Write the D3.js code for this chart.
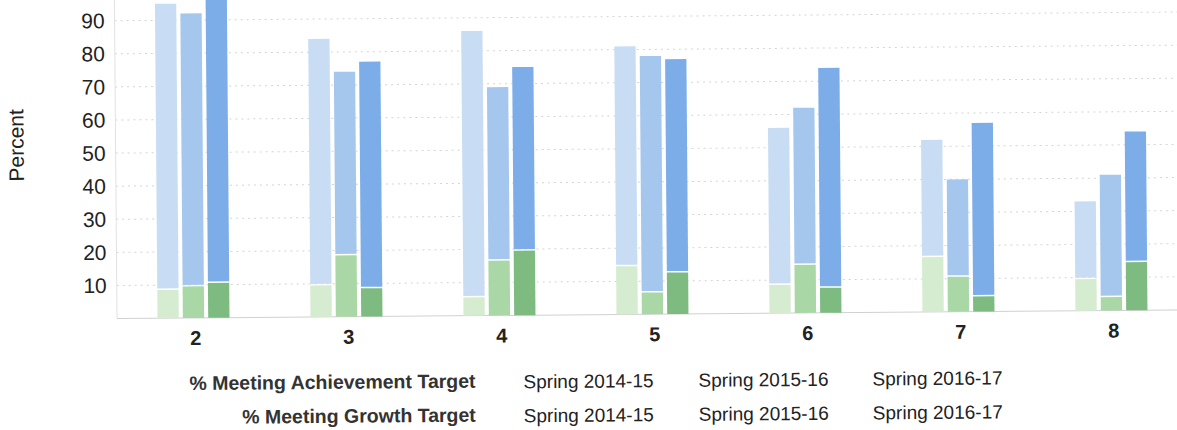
<!DOCTYPE html>
<html>
<head>
<meta charset="utf-8">
<script src="https://d3js.org/d3.v7.min.js"></script>
<style>
  html, body { margin: 0; padding: 0; background: #fff; }
  svg { display: block; font-family: "Liberation Sans", Arial, sans-serif; }
</style>
</head>
<body>
<div id="chart"></div>
<script>
// grades on the x axis
const grades = ["2", "3", "4", "5", "6", "7", "8"];
const seasons = ["Spring 2014-15", "Spring 2015-16", "Spring 2016-17"];
const yTicks = [10, 20, 30, 40, 50, 60, 70, 80, 90];

// % meeting achievement target (top of each bar), one row per grade
const achievement = [
  [95, 92, 98],
  [84, 74, 77],
  [86, 69, 75],
  [81, 78, 77],
  [56, 62, 74],
  [52, 40, 57],
  [33, 41, 54]
];

// % meeting growth target (green part at the bottom)
const growth = [
  [9, 10, 11],
  [10, 19, 9],
  [6, 17, 20],
  [15, 7, 13],
  [9, 15, 8],
  [17, 11, 5],
  [10, 4.5, 15]
];

const blues = ["#c8ddf3", "#a5c7ee", "#7cade9"];
const greens = ["#d5ecd0", "#a9d7a5", "#7dbb81"];

const W = 1177, H = 430;
const left = 117;

const svg = d3.select("#chart").append("svg")
  .attr("width", W)
  .attr("height", H);

// the scanned page is a little tilted
const g = svg.append("g").attr("transform", "rotate(-0.47, 190, 318)");

const y = d3.scaleLinear().domain([0, 100]).range([318, -13]);
const x0 = d3.scaleBand().domain(grades).range([left, left + 7 * 153]);
const x1 = d3.scaleBand().domain(d3.range(3))
  .range([-36, 36]).paddingInner(0.16);

// dotted grid
g.selectAll(".grid").data(yTicks).enter().append("line")
  .attr("x1", left).attr("x2", W + 20)
  .attr("y1", d => y(d)).attr("y2", d => y(d))
  .attr("stroke", "#d4d4d4")
  .attr("stroke-width", 1)
  .attr("stroke-dasharray", "2,4");

// axis lines
g.append("line")
  .attr("x1", left).attr("x2", left)
  .attr("y1", -10).attr("y2", y(0))
  .attr("stroke", "#e2e2e2");
g.append("line")
  .attr("x1", left).attr("x2", W + 20)
  .attr("y1", y(0)).attr("y2", y(0))
  .attr("stroke", "#d0d0d0");

// y tick labels
g.selectAll(".ytick").data(yTicks).enter().append("text")
  .attr("x", 107)
  .attr("y", d => y(d))
  .attr("dy", "0.35em")
  .attr("text-anchor", "end")
  .attr("font-size", 21)
  .attr("fill", "#222")
  .text(d => d);

g.append("text")
  .attr("transform", "translate(25,144) rotate(-90)")
  .attr("text-anchor", "middle")
  .attr("font-size", 21)
  .attr("fill", "#222")
  .text("Percent");

// bars
const groups = g.selectAll(".grade").data(grades).enter().append("g")
  .attr("transform", d => `translate(${x0(d) + x0.bandwidth() / 2},0)`);

groups.each(function(grade, gi) {
  const grp = d3.select(this);
  d3.range(3).forEach(s => {
    const a = achievement[gi][s];
    const gr = growth[gi][s];
    grp.append("rect")
      .attr("x", x1(s))
      .attr("width", x1.bandwidth())
      .attr("y", y(a))
      .attr("height", y(gr) - y(a))
      .attr("fill", blues[s]);
    grp.append("rect")
      .attr("x", x1(s))
      .attr("width", x1.bandwidth())
      .attr("y", y(gr) + 1.5)
      .attr("height", y(0) - y(gr) - 1.5)
      .attr("fill", greens[s]);
  });
  grp.append("text")
    .attr("x", 2)
    .attr("y", 345)
    .attr("text-anchor", "middle")
    .attr("font-size", 20)
    .attr("font-weight", "bold")
    .attr("fill", "#222")
    .text(grade);
});

// legend rows
const rows = ["% Meeting Achievement Target", "% Meeting Growth Target"];
const seasonX = [523, 698, 872];
rows.forEach((label, i) => {
  const by = 390 + i * 34;
  g.append("text")
    .attr("x", 475).attr("y", by)
    .attr("text-anchor", "end")
    .attr("font-size", 19.5)
    .attr("font-weight", "bold")
    .attr("fill", "#333")
    .text(label);
  seasons.forEach((s, j) => {
    g.append("text")
      .attr("x", seasonX[j]).attr("y", by + 1)
      .attr("font-size", 19)
      .attr("fill", "#222")
      .text(s);
  });
});
</script>
</body>
</html>
